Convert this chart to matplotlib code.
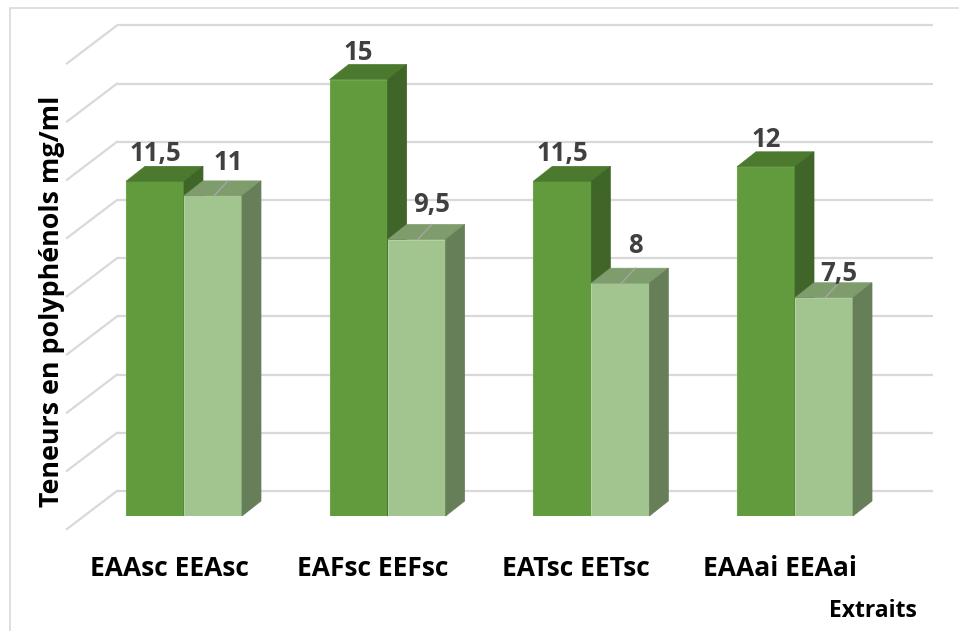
import matplotlib
matplotlib.use("Agg")
import matplotlib.pyplot as plt
from matplotlib.patches import Polygon, Rectangle
from matplotlib.transforms import ScaledTranslation

# ---- data -------------------------------------------------------------
categories = ["EAAsc EEAsc", "EAFsc EEFsc", "EATsc EETsc", "EAAai EEAai"]
ea_values = [11.5, 15, 11.5, 12]     # acetate extracts (dark green)
ee_values = [11, 9.5, 8, 7.5]        # ethanol extracts (light green)
grid_values = [0, 2, 4, 6, 8, 10, 12, 14, 16]

# how far (px) each light-bar label sits above its bar
ee_label_lift = [11, 13, 15, 2]

# ---- style ------------------------------------------------------------
FONT = ["Open Sans", "DejaVu Sans"]
plt.rcParams["font.family"] = FONT

DARK = dict(front="#629A3E", top="#4B7A2F", side="#3F6628", edge="#6FA64B")
LIGHT = dict(front="#A2C58F", top="#7E9C6C", side="#677F59", edge="#B3D2A2")
GRID = "#D9D9D9"
LABEL = "#404040"

W, H, DPI = 959, 631, 100
fig = plt.figure(figsize=(W / DPI, H / DPI), dpi=DPI)

# front plane of the plot (pixels from top-left)
left_px, right_px, top_px, bottom_px = 82.15, 896.85, 50.4, 516.0
ax = fig.add_axes([left_px / W, 1 - bottom_px / H,
                   (right_px - left_px) / W, (bottom_px - top_px) / H])
ax.set_xlim(-0.5, len(categories) - 0.5)
ax.set_ylim(grid_values[0], grid_values[-1])
ax.set_facecolor("none")
for s in ax.spines.values():
    s.set_visible(False)

# pixel -> data unit helpers
px_x = (right_px - left_px) / (len(categories))
px_y = (bottom_px - top_px) / (grid_values[-1] - grid_values[0])
dx = lambda p: p / px_x
dy = lambda p: p / px_y

# ---- back wall and floor grid -----------------------------------------
wall_dy = dy(25)
wall_left, wall_right = dx(117 - 184), dx(933 - 184)
diag_dx, diag_dy = dx(-50), dy(38)
for g in grid_values:
    yb = g + wall_dy
    ax.plot([wall_left, wall_right], [yb, yb], color=GRID, lw=1.6,
            clip_on=False, zorder=1, solid_capstyle="butt")
    ax.plot([wall_left, wall_left + diag_dx], [yb, yb - diag_dy], color=GRID,
            lw=1.6, clip_on=False, zorder=1)

# ---- 3-D bars -----------------------------------------------------------
bw = dx(58)
bdx, bdy = dx(19), dy(15)


def bar3d(x, v, c, z):
    ax.bar(x, v, width=bw, color=c["front"], edgecolor=c["edge"], lw=0.8,
           zorder=z)
    x0, x1 = x - bw / 2, x + bw / 2
    top = [(x0, v), (x1, v), (x1 + bdx, v + bdy), (x0 + bdx, v + bdy)]
    side = [(x1, 0), (x1, v), (x1 + bdx, v + bdy), (x1 + bdx, bdy)]
    ax.add_patch(Polygon(top, closed=True, fc=c["top"], ec=c["top"], lw=0.5,
                         zorder=z, clip_on=False))
    ax.add_patch(Polygon(side, closed=True, fc=c["side"], ec=c["side"],
                         lw=0.5, zorder=z, clip_on=False))


def fmt(v):
    return f"{v:g}".replace(".", ",")


for i, (a, e) in enumerate(zip(ea_values, ee_values)):
    xa, xe = i - bw / 2, i + bw / 2
    bar3d(xa, a, DARK, 2 + i * 0.01)
    bar3d(xe, e, LIGHT, 3 + i * 0.01)
    # value labels
    ax.text(xa, a + bdy + dy(5), fmt(a), ha="center", va="baseline",
            fontsize=18.5, fontweight="bold", color=LABEL, zorder=6,
            clip_on=False)
    ax.text(xe + dx(15), e + bdy + dy(ee_label_lift[i]), fmt(e),
            ha="center", va="baseline", fontsize=18.5, fontweight="bold",
            color=LABEL, zorder=6, clip_on=False)
    # leader line across the top face
    ax.plot([xe + dx(15), xe + dx(1)], [e + bdy, e], color="#A6A6A6",
            lw=1.0, zorder=5, clip_on=False)

# ---- axes text ----------------------------------------------------------
ax.set_yticks([])
ax.set_xticks(range(len(categories)))
ax.set_xticklabels(categories, fontsize=19, fontweight="bold", color="black")
ax.tick_params(axis="x", length=0, pad=28)
shift = ScaledTranslation(-15 / DPI, 0, fig.dpi_scale_trans)
for lbl in ax.get_xticklabels():
    lbl.set_transform(lbl.get_transform() + shift)

ax.set_ylabel("Teneurs en polyphénols mg/ml", fontsize=19.3,
              fontweight="bold", color="black", va="center")
ax.yaxis.set_label_coords((52 - left_px) / (right_px - left_px),
                          (bottom_px - 301) / (bottom_px - top_px))
ax.set_xlabel("Extraits", fontsize=16.5, fontweight="bold", color="black",
              va="baseline")
ax.xaxis.set_label_coords((873 - left_px) / (right_px - left_px),
                          (bottom_px - 617) / (bottom_px - top_px))

# chart frame
fig.patches.append(Rectangle((10 / W, -0.05), 1.2, (H - 8) / H + 0.05,
                             transform=fig.transFigure, fill=False,
                             ec=GRID, lw=1.2))

fig.savefig("out.png", dpi=DPI)
